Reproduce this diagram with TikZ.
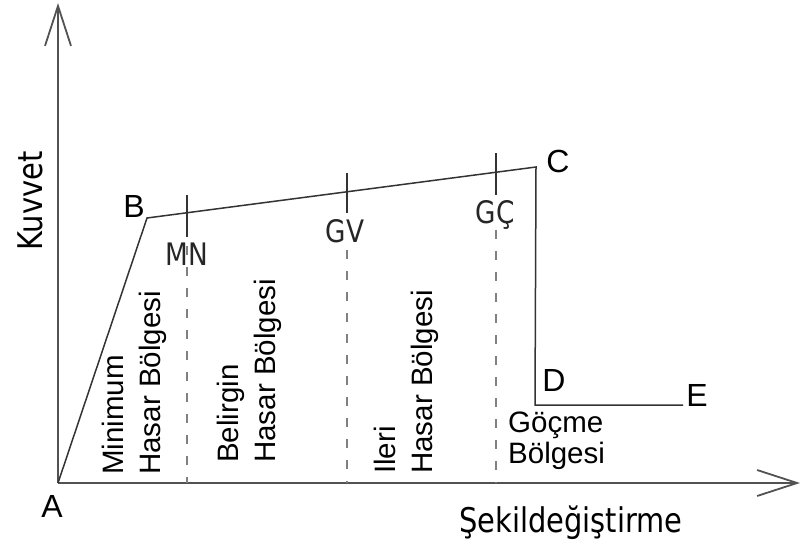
\documentclass[tikz,border=0pt]{standalone}
\usepackage{fontspec}
\setmainfont{Liberation Sans}
\newfontfamily\narrowsans[FakeStretch=0.85]{DejaVu Sans}
\usetikzlibrary{arrows.meta}
\begin{document}
\begin{tikzpicture}[x=1pt,y=1pt,
  axisline/.style={draw=black!68, line width=1.8pt,
    -{Straight Barb[length=40pt,width=26pt]}},
  curve/.style={draw=black!80, line width=1.5pt, line join=miter},
  tickmark/.style={draw=black!80, line width=1.5pt},
  guide/.style={draw=black!50, line width=1.4pt, dash pattern=on 9pt off 12pt},
  pointlabel/.style={inner sep=0pt, anchor=base, font=\fontsize{32}{34}\selectfont},
  limitlabel/.style={inner sep=0pt, anchor=base, text=black!85, font=\narrowsans\fontsize{31}{33}\selectfont},
  axislabel/.style={inner sep=0pt, anchor=base, font=\narrowsans\fontsize{34}{36}\selectfont},
  zonelabel/.style={inner sep=0pt, rotate=90, anchor=base west, font=\fontsize{29.5}{31}\selectfont},
  flatlabel/.style={inner sep=0pt, anchor=base west, font=\fontsize{29.5}{31}\selectfont}]
\path[use as bounding box] (0,0) rectangle (802,550);

% axes
\coordinate (A) at (58,67);
\coordinate (ytip) at (58,547);
\coordinate (xtip) at (800,67);
\draw[axisline] (A) -- (ytip);
\draw[axisline] (A) -- (xtip);

% force-displacement curve
\coordinate (B) at (147,332);
\coordinate (C) at (536,383);
\coordinate (D) at (535,145);
\coordinate (E) at (683,145);
\draw[curve] (A) -- (B) -- (C) -- (D) -- (E);

% performance limits on the curve
\coordinate (mnTop) at (187,355);
\coordinate (mnBot) at (187,313);
\coordinate (gvTop) at (347,377);
\coordinate (gvBot) at (347,337);
\coordinate (gcTop) at (496,397);
\coordinate (gcBot) at (496,355);
\draw[tickmark] (mnTop) -- (mnBot);
\draw[tickmark] (gvTop) -- (gvBot);
\draw[tickmark] (gcTop) -- (gcBot);

% region boundaries
\coordinate (mnDash) at (187,304);
\coordinate (mnFoot) at (187,67);
\coordinate (gvDash) at (347,300);
\coordinate (gvFoot) at (347,67);
\coordinate (gcDash) at (496,320);
\coordinate (gcFoot) at (496,67);
\draw[guide] (mnDash) -- (mnFoot);
\draw[guide] (gvDash) -- (gvFoot);
\draw[guide] (gcDash) -- (gcFoot);

% point labels
\node[pointlabel] (lA) at (52,33) {A};
\node[pointlabel] (lB) at (134,333) {B};
\node[pointlabel] (lC) at (558,378) {C};
\node[pointlabel] (lD) at (554,159) {D};
\node[pointlabel] (lE) at (697,144) {E};

% limit labels
\node[limitlabel] (lMN) at (187,285) {MN};
\node[limitlabel] (lGV) at (345,308) {GV};
\node[limitlabel] (lGC) at (495,327) {GÇ};

% axis labels
\node[axislabel, rotate=90] (lKuvvet) at (42,349) {Kuvvet};
\node[axislabel] (lSekil) at (571,18) {Şekildeğiştirme};

% damage regions
\node[zonelabel] (z1a) at (123,75) {Minimum};
\node[zonelabel] (z1b) at (160,75) {Hasar Bölgesi};
\node[zonelabel] (z2a) at (238,87) {Belirgin};
\node[zonelabel] (z2b) at (275,87) {Hasar Bölgesi};
\node[zonelabel] (z3a) at (395,76) {Ileri};
\node[zonelabel] (z3b) at (432,76) {Hasar Bölgesi};
\node[flatlabel] (z4a) at (508,118) {Göçme};
\node[flatlabel] (z4b) at (508,87) {Bölgesi};
\end{tikzpicture}
\end{document}
